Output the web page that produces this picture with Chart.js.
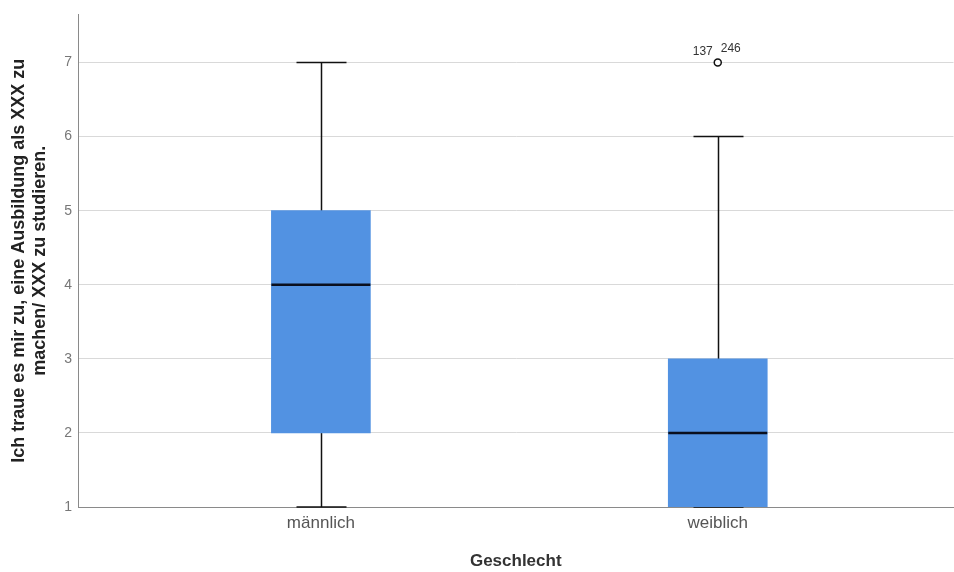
<!DOCTYPE html>
<html>
<head>
<meta charset="utf-8">
<script src="https://cdn.jsdelivr.net/npm/chart.js@4"></script>
<style>
  body { margin: 0; background: #fff; overflow: hidden; }
  #wrap { width: 954px; height: 572px; overflow: hidden; }
</style>
</head>
<body>
<div id="wrap"><canvas id="chart" width="959" height="572"></canvas></div>
<script>
// Boxplot values
const groups = ['männlich', 'weiblich'];
const minVals = [1, 1];
const q1Vals = [2, 1];
const medianVals = [4, 2];
const q3Vals = [5, 3];
const maxVals = [7, 6];
// outliers: group index, value, case numbers
const outlierGroup = [1];
const outlierValue = [7];
const outlierIds = [['137', '246']];
const yTicks = [1, 2, 3, 4, 5, 6, 7];

const font = "'Liberation Sans', Arial, sans-serif";

// whiskers, caps, medians and outlier labels, drawn through the chart scales
const boxPlugin = {
  id: 'boxParts',
  beforeDatasetsDraw(chart) {
    const { ctx, scales: { x, y } } = chart;
    ctx.save();
    ctx.strokeStyle = '#111';
    ctx.lineWidth = 1.5;
    groups.forEach((g, i) => {
      const cx = Math.round(x.getPixelForValue(i + 1)) + 0.5;
      const half = 25;
      ctx.beginPath();
      ctx.moveTo(cx, y.getPixelForValue(minVals[i]));
      ctx.lineTo(cx, y.getPixelForValue(maxVals[i]));
      ctx.stroke();
      [minVals[i], maxVals[i]].forEach(v => {
        const py = y.getPixelForValue(v);
        ctx.beginPath();
        ctx.moveTo(cx - half, py);
        ctx.lineTo(cx + half, py);
        ctx.stroke();
      });
    });
    ctx.restore();
  },
  afterDatasetsDraw(chart) {
    const { ctx, scales: { x, y } } = chart;
    const bar = chart.getDatasetMeta(0).data;
    ctx.save();
    ctx.strokeStyle = '#0a0f1e';
    ctx.lineWidth = 2.5;
    groups.forEach((g, i) => {
      const el = bar[i];
      const py = y.getPixelForValue(medianVals[i]);
      ctx.beginPath();
      ctx.moveTo(el.x - el.width / 2, py);
      ctx.lineTo(el.x + el.width / 2, py);
      ctx.stroke();
    });
    ctx.fillStyle = '#333';
    ctx.font = '12px ' + font;
    outlierGroup.forEach((gi, k) => {
      const px = x.getPixelForValue(gi + 1);
      const py = y.getPixelForValue(outlierValue[k]);
      const ids = outlierIds[k];
      ctx.textBaseline = 'alphabetic';
      ctx.textAlign = 'right';
      ctx.fillText(ids[0], px - 5, py - 8);
      ctx.textAlign = 'left';
      ctx.fillText(ids[1], px + 3, py - 11);
    });
    ctx.restore();
  }
};

new Chart(document.getElementById('chart'), {
  type: 'bar',
  data: {
    datasets: [{
      type: 'bar',
      data: groups.map((g, i) => ({ x: i + 1, y: [q1Vals[i], q3Vals[i]] })),
      backgroundColor: '#5292e2',
      borderWidth: 0,
      barThickness: 99
    }, {
      type: 'scatter',
      data: outlierGroup.map((gi, k) => ({ x: gi + 1, y: outlierValue[k] })),
      pointStyle: 'circle',
      pointRadius: 3.5,
      pointBorderWidth: 1.5,
      pointBorderColor: '#111',
      pointBackgroundColor: '#fff'
    }]
  },
  options: {
    responsive: false,
    animation: false,
    layout: { padding: { top: 10, right: 0, left: 9, bottom: 0 } },
    plugins: { legend: { display: false }, tooltip: { enabled: false } },
    scales: {
      x: {
        type: 'linear',
        offset: false,
        min: 0.388,
        max: 2.594,
        afterBuildTicks: s => { s.ticks = groups.map((g, i) => ({ value: i + 1 })); },
        afterFit: s => { s.height = 65; },
        ticks: {
          callback: v => groups[v - 1],
          color: '#555',
          font: { family: font, size: 17 },
          padding: 6,
          maxRotation: 0
        },
        grid: { display: false, drawTicks: false },
        border: { display: true, color: '#8a8a8a', width: 1 },
        title: {
          display: true,
          text: 'Geschlecht',
          color: '#333',
          font: { family: font, size: 17, weight: 'bold' },
          padding: { top: 14, bottom: 0 }
        }
      },
      y: {
        min: 1,
        max: 7.65,
        afterBuildTicks: s => { s.ticks = yTicks.map(v => ({ value: v })); },
        afterFit: s => { s.width = 69; },
        ticks: {
          color: '#777',
          font: { family: font, size: 14 },
          padding: 6
        },
        grid: { color: '#d9d9d9', lineWidth: 1, drawTicks: false },
        border: { display: true, color: '#8a8a8a', width: 1 },
        title: {
          display: true,
          text: ['Ich traue es mir zu, eine Ausbildung als XXX zu', 'machen/ XXX zu studieren.'],
          color: '#222',
          font: { family: font, size: 18, weight: 'bold', lineHeight: 1.15 },
          padding: { top: 0, bottom: 0 }
        }
      }
    }
  },
  plugins: [boxPlugin]
});
</script>
</body>
</html>
